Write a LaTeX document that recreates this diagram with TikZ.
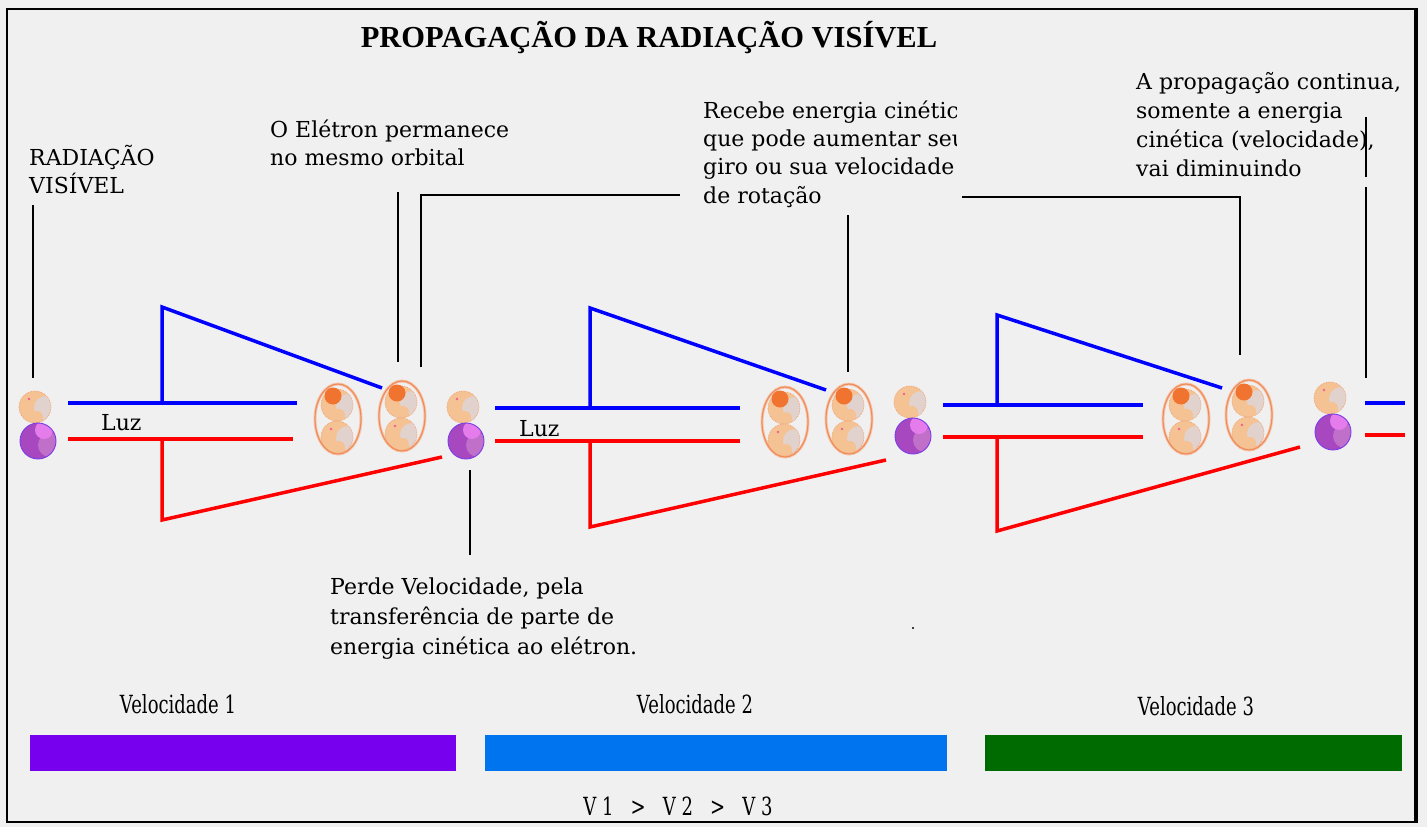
\documentclass[tikz,border=0pt]{standalone}
\usepackage{fontspec}
\setmainfont{DejaVu Serif}
\newfontfamily\titlefont{Liberation Serif}
\definecolor{bg}{HTML}{F0F0F0}
\definecolor{peach}{HTML}{F5C294}
\definecolor{peachlite}{HTML}{E2D2CE}
\definecolor{peachedge}{HTML}{F0A070}
\definecolor{pinkdot}{HTML}{F06090}
\definecolor{spot}{HTML}{F07430}
\definecolor{orbedge}{HTML}{F08C5A}
\definecolor{orbhalo}{HTML}{F5C7AE}
\definecolor{purp}{HTML}{A848C0}
\definecolor{purplite}{HTML}{E47CEC}
\definecolor{purpmid}{HTML}{C070C8}
\definecolor{purpedge}{HTML}{7A3CE8}
\definecolor{vone}{HTML}{7700EE}
\definecolor{vtwo}{HTML}{0073EE}
\definecolor{vthree}{HTML}{006B00}
\definecolor{beamblue}{HTML}{0000FF}
\definecolor{beamred}{HTML}{FF0000}
\tikzset{
  bb/.style={draw=beamblue, line width=3.5pt},
  rb/.style={draw=beamred, line width=3.5pt},
  callout/.style={draw=black, line width=1.6pt},
  lbl/.style={inner sep=0pt, anchor=base west, font=\fontsize{22}{28}\selectfont},
  vel/.style={inner sep=0pt, anchor=base, font=\fontsize{25}{30}\selectfont},
  pball/.pic={
    \begin{scope}
      \clip (0,0) circle (16);
      \fill[peach] (0,0) circle (16);
      \fill[peachlite] (11,1) circle (12);
      \fill[peach] (2,10) circle (6);
    \end{scope}
    \draw[peachedge, line width=0.7pt, densely dotted] (0,0) circle (16);
    \fill[pinkdot] (-6,-8) circle (1.3);
  },
  vball/.pic={
    \begin{scope}
      \clip (0,0) circle (18);
      \fill[purp] (0,0) circle (18);
      \fill[purpmid] (12,4) circle (12);
      \fill[purplite] (6,-11) circle (9);
    \end{scope}
    \draw[purpedge, line width=0.9pt] (0,0) circle (18);
  },
  atompair/.pic={
    \pic at (0,0) {pball};
    \pic at (3,34) {vball};
  },
  orbital/.pic={
    \draw[orbhalo, line width=3pt] (0,0) ellipse (23 and 35);
    \pic at (-1,-14) {pball};
    \pic at (-1,18) {pball};
    \fill[spot] (-5,-23) circle (8.5);
    \draw[orbedge, line width=1.2pt] (0,0) ellipse (23 and 35);
  },
}
\begin{document}
\begin{tikzpicture}[x=1pt,y=-1pt]
\useasboundingbox (0,0) rectangle (1427,827);
\fill[bg] (0,0) rectangle (1427,827);
% frame
\draw[line width=2.5pt] (7,9) rectangle (1416,822);
\draw[line width=4.5pt] (1416,8) -- (1416,823);

% title
\node[inner sep=0pt, anchor=base, font=\titlefont\bfseries\fontsize{30.5}{34}\selectfont] (title) at (649,47) {PROPAGAÇÃO DA RADIAÇÃO VISÍVEL};

% beams group 1
\draw[bb] (68,403) -- (297,403);
\draw[bb] (162,403) -- (162,307) -- (382,388);
\draw[rb] (68,439) -- (293,439);
\draw[rb] (162,439) -- (162,520) -- (442,457);
% beams group 2
\draw[bb] (495,408) -- (740,408);
\draw[bb] (590,408) -- (590,308) -- (826,390);
\draw[rb] (495,441) -- (740,441);
\draw[rb] (590,441) -- (590,527) -- (886,460);
% beams group 3
\draw[bb] (943,405) -- (1143,405);
\draw[bb] (997,405) -- (997,315) -- (1222,388);
\draw[rb] (943,437) -- (1143,437);
\draw[rb] (997,437) -- (997,531) -- (1300,447);
% beams out
\draw[bb] (1365,403) -- (1405,403);
\draw[rb] (1365,435) -- (1405,435);

% particles
\pic at (35,407) {atompair};
\pic at (338,419) {orbital};
\pic at (402,416) {orbital};
\pic at (463,407) {atompair};
\pic at (785,422) {orbital};
\pic at (849,419) {orbital};
\pic at (910,402) {atompair};
\pic at (1186,419) {orbital};
\pic at (1249,415) {orbital};
\pic at (1330,398) {atompair};

% Luz labels
\node[lbl] (luz1) at (101,430) {Luz};
\node[lbl] (luz2) at (519,436) {Luz};

% callout lines
\draw[callout] (33,205) -- (33,378);
\draw[callout] (398,192) -- (398,362);
\draw[callout] (421,367) -- (421,195) -- (680,195);
\draw[callout] (848,215) -- (848,372);
\draw[callout] (962,197) -- (1240,197) -- (1240,355);
\draw[callout] (1366,117) -- (1366,177);
\draw[callout] (1366,187) -- (1366,378);
\draw[callout] (470,470) -- (470,555);

% callout texts
\node[lbl] (rad1) at (29,165) {RADIAÇÃO};
\node[lbl] (rad2) at (29,193) {VISÍVEL};
\node[lbl] (ele1) at (270,137) {O Elétron permanece};
\node[lbl] (ele2) at (270,165) {no mesmo orbital};
\begin{scope}
  \clip (690,80) rectangle (956,215);
  \node[lbl] (rec1) at (703,118) {Recebe energia cinética};
  \node[lbl] (rec2) at (703,146) {que pode aumentar seu};
  \node[lbl] (rec3) at (703,174) {giro ou sua velocidade};
  \node[lbl] (rec4) at (703,203) {de rotação};
\end{scope}
\node[lbl] (pro1) at (1136,89) {A propagação continua,};
\node[lbl] (pro2) at (1136,118) {somente a energia};
\node[lbl] (pro3) at (1136,147) {cinética (velocidade),};
\node[lbl] (pro4) at (1136,176) {vai diminuindo};
\node[lbl] (per1) at (330,594) {Perde Velocidade, pela};
\node[lbl] (per2) at (330,624) {transferência de parte de};
\node[lbl] (per3) at (330,654) {energia cinética ao elétron.};
\fill (913,628) circle (1.2);

% velocity bars
\node[vel] (vl1) at (178,713) {\scalebox{0.72}[1]{Velocidade 1}};
\node[vel] (vl2) at (695,713) {\scalebox{0.72}[1]{Velocidade 2}};
\node[vel] (vl3) at (1196,715) {\scalebox{0.72}[1]{Velocidade 3}};
\fill[vone] (30,735) rectangle (456,771);
\fill[vtwo] (485,735) rectangle (947,771);
\fill[vthree] (985,735) rectangle (1402,771);
\node[vel] (cmp) at (678,815) {\scalebox{0.72}[1]{V 1 \ \ > \ \ V 2 \ \ > \ \ V 3}};
\end{tikzpicture}
\end{document}
